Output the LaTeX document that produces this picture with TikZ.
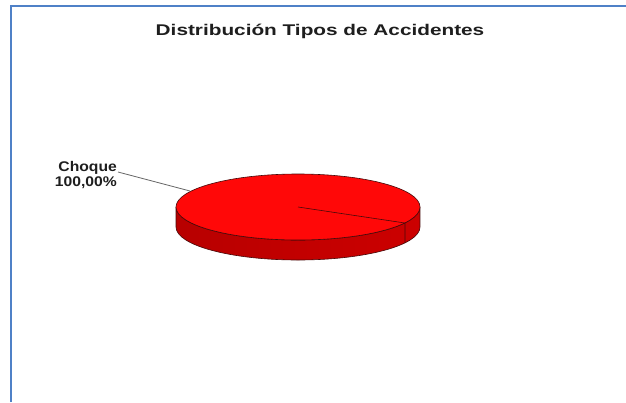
\documentclass[tikz,border=0pt]{standalone}
\usepackage{fontspec}
\setmainfont{Liberation Sans}
\usetikzlibrary{shapes.geometric}
\definecolor{frameblue}{RGB}{79,129,199}
\definecolor{txt}{RGB}{30,30,30}
\definecolor{pieRed}{RGB}{255,8,8}
\definecolor{pieEdge}{RGB}{70,10,10}
\tikzset{
  titletext/.style={inner sep=0pt, text=txt, font=\bfseries\fontsize{15.5}{17}\selectfont},
  labeltext/.style={inner sep=0pt, text=txt, font=\bfseries\fontsize{14}{15.5}\selectfont},
  pieline/.style={draw=pieEdge, line width=0.6pt},
  leader/.style={draw=gray!80!black, line width=0.8pt}
}
\begin{document}
\begin{tikzpicture}[x=1pt,y=-1pt]
\useasboundingbox (0,0) rectangle (626,402);
\fill[white] (0,0) rectangle (626,402);
% frame
\draw[frameblue, line width=2.2pt] (11,402) -- (11,6) -- (626,6);
% title
\node[titletext, anchor=base] (title) at (320,35) {\scalebox{1.34}[1]{Distribución Tipos de Accidentes}};
% pie side
\path[pieline, left color=red!72!black, middle color=red!95!black, right color=red!80!black]
  (176,207) -- (176,227) arc[start angle=180, end angle=0, x radius=122, y radius=33]
  -- (420,207) arc[start angle=0, end angle=180, x radius=122, y radius=33] -- cycle;
% pie top
\coordinate (c) at (298,207);
\path[pieline, fill=pieRed] (c) ellipse[x radius=122, y radius=33];
\coordinate (s) at (405,223);
\coordinate (sb) at (405,243);
\draw[pieline] (c) -- (s) -- (sb);
% label
\node[labeltext, anchor=base east] (lab) at (117,171)
  {\scalebox{1.12}[1]{\begin{tabular}[t]{@{}r@{}}Choque\\100,00\%\end{tabular}}};
\coordinate (ls) at (118,172);
\coordinate (lp) at (190,191);
\draw[leader] (ls) -- (lp);
\end{tikzpicture}
\end{document}
